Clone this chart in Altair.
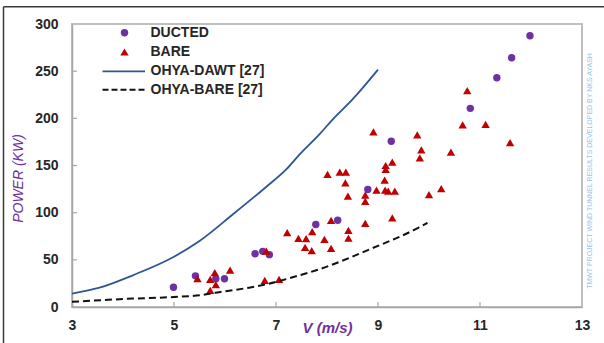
import altair as alt
import pandas as pd

# ---------------- data ----------------
ducted_v = [4.99, 5.42, 5.82, 5.99, 6.59, 6.74, 6.87, 7.78, 8.21, 8.80, 9.26, 10.81, 11.33, 11.62, 11.98]
ducted_p = [21.0, 33.0, 30.0, 30.0, 56.5, 59.0, 55.5, 87.5, 92.0, 124.6, 175.7, 210.6, 243.0, 264.3, 287.6]

bare_v = [5.46, 5.71, 5.80, 5.82, 5.71, 6.10, 6.81, 6.78, 7.06, 7.22, 7.44, 8.01, 8.25, 8.37,
          8.36, 8.41, 8.75, 8.75, 8.97, 9.14, 9.20, 9.33, 9.13, 9.15, 9.15, 9.28, 8.08, 7.71,
          7.59, 7.95, 7.57, 7.70, 8.08, 8.42, 8.42, 8.75, 9.28, 8.91, 10.75, 10.66, 11.11, 9.77,
          9.85, 9.82, 10.43, 11.59, 10.24, 10.00]
bare_p = [30.0, 29.3, 36.4, 23.7, 17.7, 39.2, 59.3, 28.3, 29.3, 78.8, 72.7, 140.5, 142.9, 142.9,
          131.7, 117.5, 118.6, 111.9, 123.9, 123.9, 122.8, 122.8, 134.4, 145.8, 150.0, 153.5, 91.8, 79.8,
          72.4, 71.7, 63.2, 59.7, 62.1, 81.2, 73.0, 88.6, 94.6, 185.7, 229.4, 193.0, 193.7, 182.5,
          166.6, 158.1, 164.1, 174.3, 125.6, 119.0]

dawt_v = [3.0, 3.54, 4.19, 5.0, 5.5, 6.15, 6.8, 7.2, 7.46, 7.85, 8.11, 8.5, 9.0]
dawt_p = [14.2, 20.5, 33.6, 53.3, 69.9, 98.0, 127.0, 145.8, 161.6, 183.0, 198.7, 220.0, 251.6]

ohya_bare_v = [3.0, 4.19, 5.0, 5.5, 5.82, 6.47, 6.8, 7.46, 7.85, 8.83, 9.79, 9.97]
ohya_bare_p = [5.5, 8.9, 10.6, 12.4, 15.2, 20.5, 24.0, 33.6, 40.0, 61.0, 84.0, 89.3]

series_names = ["DUCTED", "BARE", "OHYA-DAWT [27]", "OHYA-BARE [27]"]
x_ticks = [3, 5, 7, 9, 11, 13]
y_ticks = [0, 50, 100, 150, 200, 250, 300]
watermark = ["TMWT PROJECT WIND TUNNEL RESULTS DEVELOPED BY NKS AYASH"]

# ---------------- style ----------------
W, H = 510, 283
PURPLE = "#7030A0"
RED = "#C00000"
BLUE = "#2F5597"
FONT = "Liberation Sans"
LBL = "#262626"
AXIS = "#A6A6A6"
CIRC = 55
TRI = 70

df_d = pd.DataFrame({"v": ducted_v, "p": ducted_p})
df_b = pd.DataFrame({"v": bare_v, "p": bare_p})
df_dawt = pd.DataFrame({"v": dawt_v, "p": dawt_p})
df_ob = pd.DataFrame({"v": ohya_bare_v, "p": ohya_bare_p})

xs = alt.Scale(domain=[3, 13], nice=False, zero=False)
ys = alt.Scale(domain=[0, 300], nice=False)

x_axis = alt.Axis(values=x_ticks, ticks=False, grid=False, domainColor=AXIS, domainWidth=1.5,
                  labelFont=FONT, labelFontSize=14, labelFontWeight="bold", labelColor=LBL,
                  labelPadding=11, labelFlush=False,
                  title="V (m/s)", titleFont=FONT, titleFontSize=15, titleFontStyle="italic",
                  titleFontWeight="bold", titleColor=PURPLE, titleY=20, titleBaseline="middle")
y_axis = alt.Axis(values=y_ticks, ticks=False, grid=False, domainColor=AXIS, domainWidth=1.5,
                  labelFont=FONT, labelFontSize=14, labelFontWeight="bold", labelColor=LBL,
                  labelPadding=14, labelFlush=False,
                  title="POWER (KW)", titleFont=FONT, titleFontSize=14, titleFontStyle="italic",
                  titleFontWeight="normal", titleColor=PURPLE, titleX=-54, titleY=154,
                  titleBaseline="middle", titleAlign="center", titleAngle=270)

X = alt.X("v:Q", scale=xs, axis=x_axis)
Y = alt.Y("p:Q", scale=ys, axis=y_axis)

ducted = alt.Chart(df_d).mark_point(filled=True, shape="circle", size=CIRC, color=PURPLE, opacity=1).encode(x=X, y=Y)
bare = alt.Chart(df_b).mark_point(filled=True, shape="triangle-up", size=TRI, color=RED, opacity=1).encode(x=X, y=Y)
dawt = alt.Chart(df_dawt).mark_line(color=BLUE, strokeWidth=1.8, interpolate="monotone").encode(x=X, y=Y)
obare = alt.Chart(df_ob).mark_line(color="#111111", strokeWidth=2, strokeDash=[7, 4],
                                   interpolate="monotone").encode(x=X, y=Y)

# inside tick marks
xt = alt.Chart(pd.DataFrame({"v": x_ticks[1:-1]})).mark_rule(color=AXIS, strokeWidth=1.2).encode(
    x=X, y=alt.value(H - 5), y2=alt.value(H))
yt = alt.Chart(pd.DataFrame({"p": y_ticks[1:-1]})).mark_rule(color=AXIS, strokeWidth=1.2).encode(
    y=Y, x=alt.value(0), x2=alt.value(5))

# legend (drawn manually)
leg_y = [8.7, 28.0, 47.3, 65.7]
sym_x = 52.5
txt_x = 78.5
one = pd.DataFrame({"k": [0]})
leg_c = alt.Chart(one).mark_point(filled=True, shape="circle", size=CIRC, color=PURPLE, opacity=1).encode(
    x=alt.value(sym_x), y=alt.value(leg_y[0]))
leg_t = alt.Chart(one).mark_point(filled=True, shape="triangle-up", size=TRI, color=RED, opacity=1).encode(
    x=alt.value(sym_x), y=alt.value(leg_y[1]))
leg_l1 = alt.Chart(one).mark_rule(color=BLUE, strokeWidth=1.8).encode(
    x=alt.value(30.5), x2=alt.value(73), y=alt.value(leg_y[2]))
leg_l2 = alt.Chart(one).mark_rule(color="#111111", strokeWidth=2, strokeDash=[6, 3]).encode(
    x=alt.value(30.5), x2=alt.value(73), y=alt.value(leg_y[3]))
leg_text = []
for name, yy in zip(series_names, leg_y):
    leg_text.append(
        alt.Chart(pd.DataFrame({"label": [name]})).mark_text(
            align="left", baseline="middle", font=FONT, fontSize=14, fontWeight="bold", color=LBL
        ).encode(x=alt.value(txt_x), y=alt.value(yy), text="label:N")
    )

wm = alt.Chart(pd.DataFrame({"t": watermark})).mark_text(
    angle=270, align="center", baseline="middle", font=FONT, fontSize=7, color="#9DC3E6"
).encode(x=alt.value(517.5), y=alt.value(147), text="t:N")

# outer frame of the picture (top and left edges)
frame_top = alt.Chart(one).mark_rule(color="#3a3a3a", strokeWidth=1.5).encode(
    x=alt.value(-68.5), x2=alt.value(532), y=alt.value(-17.3))
frame_left = alt.Chart(one).mark_rule(color="#3a3a3a", strokeWidth=1.5).encode(
    x=alt.value(-68.5), y=alt.value(-17.3), y2=alt.value(320))

chart = alt.layer(
    ducted, bare, dawt, obare, xt, yt,
    leg_c, leg_t, leg_l1, leg_l2, *leg_text, wm, frame_top, frame_left
).properties(
    width=W, height=H,
    padding={"left": 72, "top": 24, "right": 22, "bottom": 36},
    autosize=alt.AutoSizeParams(type="none"),
    background="white",
).configure_view(stroke="#BFBFBF", strokeWidth=2)

chart.save("out.html", embed_options={"renderer": "svg", "actions": False})
